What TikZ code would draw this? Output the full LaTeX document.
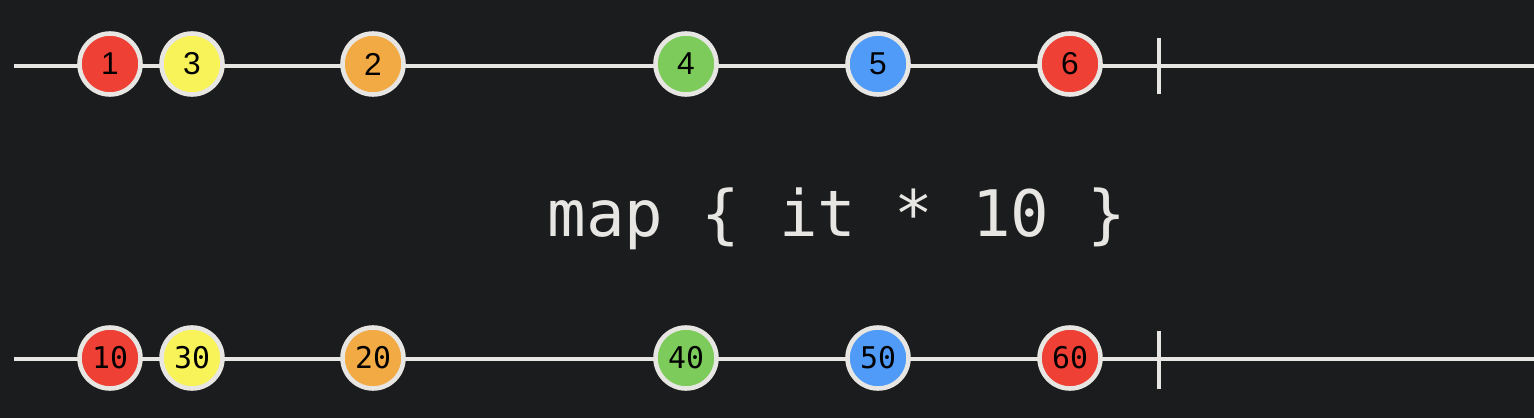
\documentclass[tikz,border=0pt]{standalone}
\usepackage{fontspec}
\setmainfont{Liberation Sans}
\setmonofont{DejaVu Sans Mono}
\definecolor{bg}{HTML}{1B1C1E}
\definecolor{rim}{HTML}{E8E6E3}
\definecolor{mred}{HTML}{EE4035}
\definecolor{myellow}{HTML}{F9F35A}
\definecolor{morange}{HTML}{F2AA45}
\definecolor{mgreen}{HTML}{7CCB5B}
\definecolor{mblue}{HTML}{4F9BF7}

\begin{document}
\begin{tikzpicture}[x=0.02cm, y=-0.02cm,
    marble/.style={circle, draw=rim, line width=2.6pt, minimum size=1.22cm, inner sep=0pt, text=black},
    inmarble/.style={marble, font=\fontsize{18}{18}\selectfont},
    outmarble/.style={marble, font=\ttfamily\fontsize{17}{17}\selectfont},
    timeline/.style={draw=rim, line width=2pt}]
    \fill[bg] (0, 0) rectangle (1534, 418);
    \useasboundingbox (0, 0) rectangle (1534, 418);

    % input stream
    \coordinate (s1) at (14, 66);
    \coordinate (e1) at (1534, 66);
    \coordinate (t1a) at (1159, 38);
    \coordinate (t1b) at (1159, 94);
    \draw[timeline] (s1) -- (e1);
    \draw[timeline] (t1a) -- (t1b);
    \node[inmarble, fill=mred] (a1) at (110, 64) {1};
    \node[inmarble, fill=myellow] (a3) at (192, 64) {3};
    \node[inmarble, fill=morange] (a2) at (373, 64) {2};
    \node[inmarble, fill=mgreen] (a4) at (686, 64) {4};
    \node[inmarble, fill=mblue] (a5) at (878, 64) {5};
    \node[inmarble, fill=mred] (a6) at (1070, 64) {6};

    % operator
    \node[text=rim, font=\ttfamily\fontsize{36.5}{36.5}\selectfont] (op) at (837, 219) {map \{ it * 10 \}};

    % output stream
    \coordinate (s2) at (14, 359);
    \coordinate (e2) at (1534, 359);
    \coordinate (t2a) at (1159, 331);
    \coordinate (t2b) at (1159, 389);
    \draw[timeline] (s2) -- (e2);
    \draw[timeline] (t2a) -- (t2b);
    \node[outmarble, fill=mred] (b1) at (110, 358) {10};
    \node[outmarble, fill=myellow] (b3) at (192, 358) {30};
    \node[outmarble, fill=morange] (b2) at (373, 358) {20};
    \node[outmarble, fill=mgreen] (b4) at (686, 358) {40};
    \node[outmarble, fill=mblue] (b5) at (878, 358) {50};
    \node[outmarble, fill=mred] (b6) at (1070, 358) {60};
\end{tikzpicture}
\end{document}
